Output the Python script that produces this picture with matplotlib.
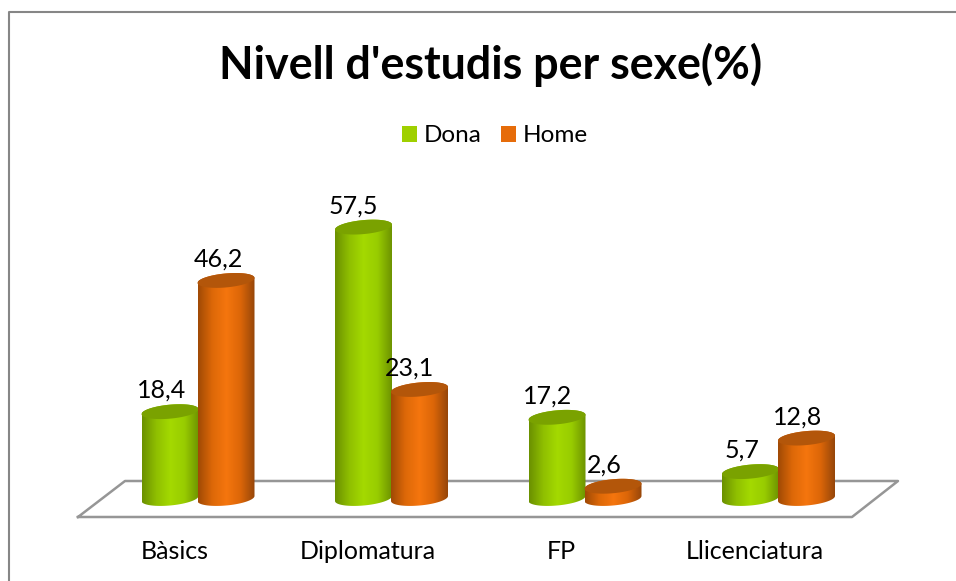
#!/usr/bin/env python3

import numpy as np
import matplotlib.pyplot as plt
from matplotlib.colors import LinearSegmentedColormap
from matplotlib.lines import Line2D
from matplotlib.patches import PathPatch, Patch
from matplotlib.path import Path

categories = ["Bàsics", "Diplomatura", "FP", "Llicenciatura"]
dona = [18.4, 57.5, 17.2, 5.7]
home = [46.2, 23.1, 2.6, 12.8]
series_names = ["Dona", "Home"]
label_shift = [-8, -10, -9, -9]

W, H = 956, 581
PX_X = 193.5  # pixels per category
PX_Y = 4.72   # pixels per percent
FONT = ["Lato", "DejaVu Sans"]

green_cmap = LinearSegmentedColormap.from_list(
    "green", ["#6b9000", "#8fbf00", "#a4da00", "#98cc00", "#6e9300"])
orange_cmap = LinearSegmentedColormap.from_list(
    "orange", ["#a04a05", "#dd6808", "#f5760e", "#dc6608", "#96460a"])
green_top = "#7aa200"
orange_top = "#b3560a"
gradient = np.linspace(0, 1, 128).reshape(1, -1)


def ellipse(xc, yc, t):
    # slightly tilted ellipse, sizes in pixels, returned in data units
    a, b, tilt = 28.5, 7.0, 2.5
    x = xc + a * np.cos(t) / PX_X
    y = yc + (b * np.sin(t) + tilt * np.cos(t)) / PX_Y
    return np.column_stack([x, y])


def cylinder(ax, xc, value, cmap, top_color, z):
    upper = ellipse(xc, value, np.linspace(0, np.pi, 40))
    lower = ellipse(xc, 0, np.linspace(np.pi, 2 * np.pi, 40))
    body = PathPatch(Path(np.vstack([upper, lower, upper[:1]])),
                     transform=ax.transData, fc="none", ec="none", clip_on=False)
    ax.add_patch(body)
    half = 28.5 / PX_X
    im = ax.imshow(gradient, cmap=cmap, aspect="auto", zorder=z,
                   extent=[xc - half, xc + half, -3, value + 3])
    im.set_clip_path(body)
    # the round foot hangs below the axes, so only clip to the figure
    im.set_clip_box(ax.figure.bbox)
    top = ellipse(xc, value, np.linspace(0, 2 * np.pi, 80))
    ax.fill(top[:, 0], top[:, 1], color=top_color, lw=0, zorder=z + 0.1,
            clip_on=False)


fig = plt.figure(figsize=(W / 100, H / 100), dpi=100)

# chart frame: only left and top edges are inside the picture
fig.add_artist(Line2D([9 / W, 9 / W, 1], [0, 1 - 12 / H, 1 - 12 / H],
                      color="#868686", lw=1.5, zorder=-1))

# floor of the 3D plot, stays behind the axes
floor_x = np.array([78, 852, 898, 125, 78]) / W
floor_y = 1 - np.array([517, 517, 481, 481, 517]) / H
fig.add_artist(Line2D(floor_x, floor_y, color="#969696", lw=1.8, zorder=-1))

ax = fig.add_axes([101.25 / W, 1 - 498.5 / H, 774 / W, 70 * PX_Y / H])
ax.patch.set_visible(False)

for i in range(len(categories)):
    x_d = i - 28 / PX_X
    x_h = i + 28 / PX_X
    cylinder(ax, x_d, dona[i], green_cmap, green_top, 3)
    cylinder(ax, x_h, home[i], orange_cmap, orange_top, 4)
    for x, v in ((x_d, dona[i]), (x_h, home[i])):
        ax.annotate(f"{v:.1f}".replace(".", ","), (x, v),
                    xytext=(label_shift[i] * 0.72, 10), textcoords="offset points",
                    ha="center", va="baseline", fontsize=18, color="black",
                    family=FONT, zorder=6)

ax.set_xlim(-0.5, 3.5)
ax.set_ylim(0, 70)
ax.set_xticks(np.arange(len(categories)) - 0.12)
ax.set_xticklabels(categories, fontsize=18, family=FONT)
ax.set_yticks([])
ax.tick_params(axis="x", length=0, pad=30)
for s in ax.spines.values():
    s.set_visible(False)

fig.text(490.5 / W, 1 - 65 / H, "Nivell d'estudis per sexe(%)", ha="center", va="center",
         fontsize=32.3, fontweight="bold", family=FONT)

handles = [Patch(fc="#9fd000", ec="none"), Patch(fc="#e66c0a", ec="none")]
fig.legend(handles, series_names, loc="center", bbox_to_anchor=(495 / W, 1 - 136 / H),
           ncol=2, frameon=False, handlelength=0.62, handleheight=0.62,
           handletextpad=0.25, columnspacing=0.82, prop={"family": FONT, "size": 17.5})

plt.savefig("out.png", dpi=100)
